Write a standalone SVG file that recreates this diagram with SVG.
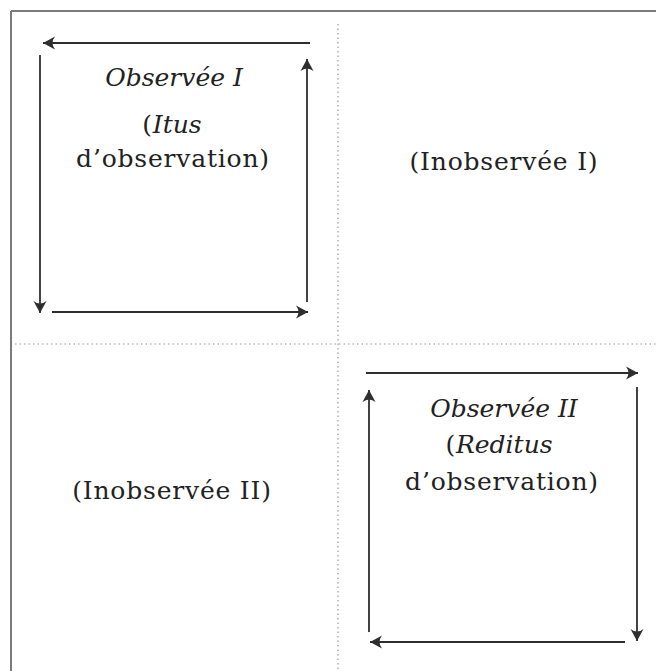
<svg xmlns="http://www.w3.org/2000/svg" width="656" height="671" viewBox="0 0 656 671">
<style>
.frame{stroke:#7a7a7a;stroke-width:2;fill:none}
.dot{stroke:#9a9a9a;stroke-width:1.2;stroke-dasharray:1.5 3;fill:none}
.arr{stroke:#2e2e2e;stroke-width:1.8;fill:none;marker-end:url(#ah)}
.t{font-family:'DejaVu Serif','Liberation Serif',serif;font-size:25px;fill:#222;text-anchor:middle;letter-spacing:0.8px}
.i{font-style:italic;letter-spacing:0px}
</style>
<defs>
<marker id="ah" markerUnits="userSpaceOnUse" markerWidth="16" markerHeight="16" viewBox="-13 -8 15 16" refX="0" refY="0" orient="auto">
<path d="M0,0 L-12,-6.5 Q-7,0 -12,6.5 Z" fill="#2e2e2e"/>
</marker>
</defs>
<rect width="656" height="671" fill="#fff"/>
<g id="frame">
<line class="frame" x1="11" y1="11" x2="656" y2="11"/>
<line class="frame" x1="11" y1="11" x2="11" y2="671"/>
<line class="dot" x1="338" y1="24" x2="338" y2="671"/>
<line class="dot" x1="15" y1="344" x2="656" y2="344"/>
</g>
<g id="connectors">
<line class="arr" x1="310" y1="43" x2="43" y2="43"/>
<line class="arr" x1="40" y1="55" x2="40" y2="313"/>
<line class="arr" x1="52" y1="312" x2="308" y2="312"/>
<line class="arr" x1="307" y1="302" x2="307" y2="59"/>
<line class="arr" x1="366" y1="373" x2="638" y2="373"/>
<line class="arr" x1="637" y1="387" x2="637" y2="641"/>
<line class="arr" x1="625" y1="642" x2="370" y2="642"/>
<line class="arr" x1="369" y1="632" x2="369" y2="390"/>
</g>
<g id="observee1">
<text class="t i" x="174" y="86">Observ&#233;e I</text>
<text class="t" x="172" y="133">(<tspan class="i">Itus</tspan></text>
<text class="t" x="173" y="167">d&#8217;observation)</text>
</g>
<g id="inobservee1">
<text class="t" x="504" y="170">(Inobserv&#233;e I)</text>
</g>
<g id="inobservee2">
<text class="t" x="172" y="499">(Inobserv&#233;e II)</text>
</g>
<g id="observee2">
<text class="t i" x="504" y="417">Observ&#233;e II</text>
<text class="t" x="499" y="453">(<tspan class="i">Reditus</tspan></text>
<text class="t" x="502" y="490">d&#8217;observation)</text>
</g>
</svg>
